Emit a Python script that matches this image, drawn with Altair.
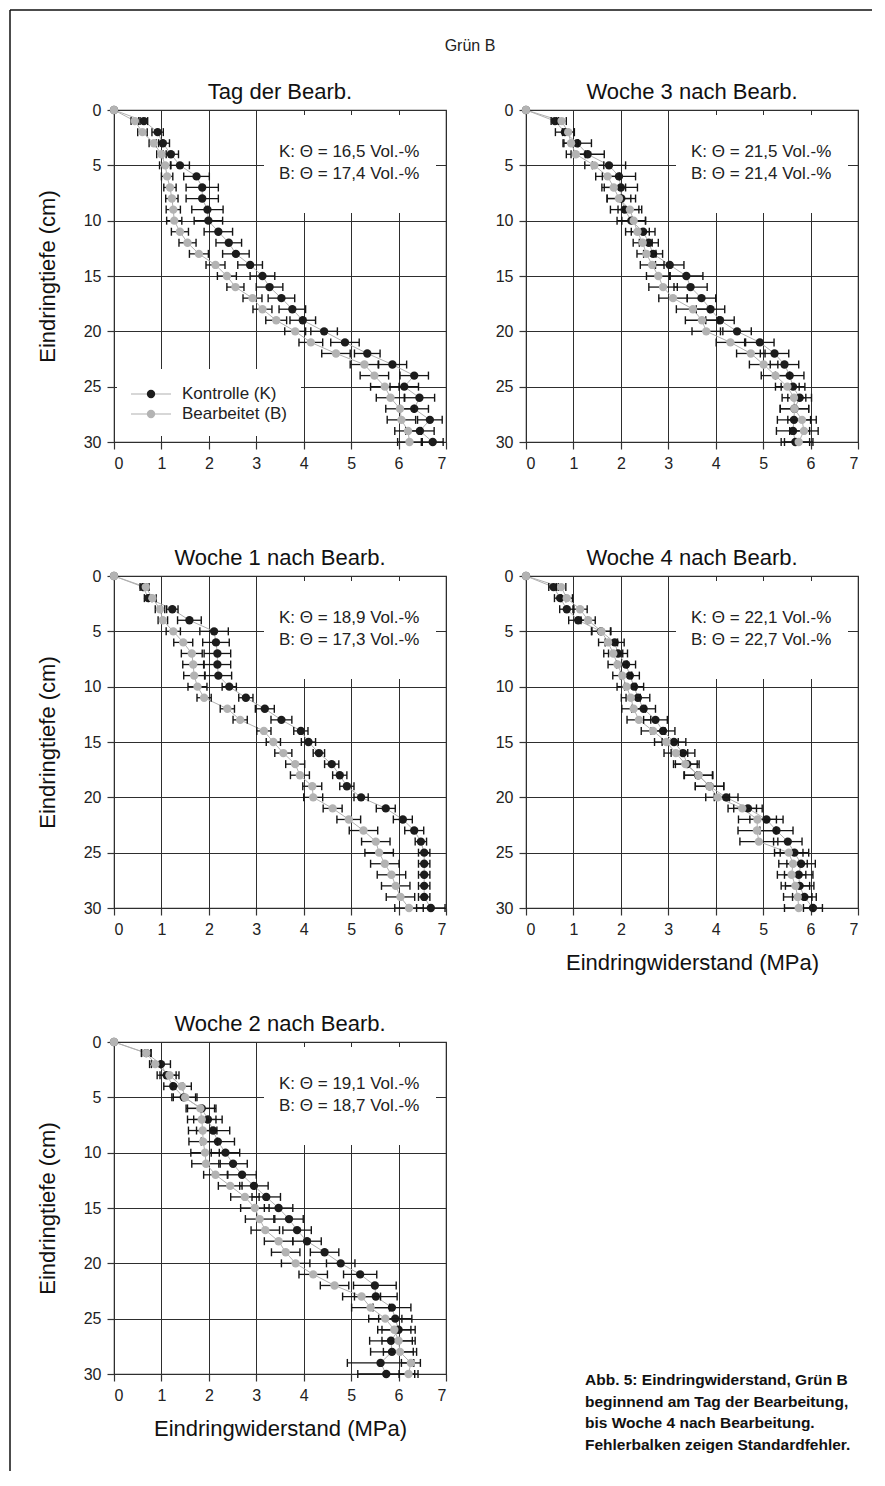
import altair as alt
import pandas as pd

FONT = "Liberation Sans"

depth = list(range(31))

# ---- Tag der Bearbeitung ----
k_t0 = [0, 0.63, 0.92, 1.03, 1.20, 1.39, 1.74, 1.86, 1.86, 1.97, 1.99, 2.20, 2.42, 2.57, 2.87, 3.13,
        3.28, 3.53, 3.76, 3.98, 4.43, 4.87, 5.34, 5.87, 6.33, 6.12, 6.44, 6.33, 6.66, 6.45, 6.72]
b_t0 = [0, 0.44, 0.60, 0.84, 1.00, 1.08, 1.12, 1.18, 1.22, 1.25, 1.27, 1.39, 1.55, 1.79, 2.14, 2.38,
        2.56, 2.92, 3.13, 3.42, 3.82, 4.15, 4.68, 5.28, 5.49, 5.71, 5.83, 6.03, 6.06, 6.20, 6.23]
sek_t0 = [0, 0.08, 0.12, 0.14, 0.16, 0.20, 0.27, 0.34, 0.34, 0.33, 0.30, 0.30, 0.27, 0.28, 0.26, 0.26,
          0.28, 0.28, 0.28, 0.27, 0.28, 0.30, 0.27, 0.30, 0.30, 0.30, 0.32, 0.30, 0.26, 0.30, 0.22]
seb_t0 = [0, 0.08, 0.10, 0.10, 0.10, 0.12, 0.12, 0.13, 0.13, 0.15, 0.16, 0.18, 0.18, 0.20, 0.20, 0.20,
          0.18, 0.20, 0.20, 0.22, 0.22, 0.25, 0.30, 0.30, 0.30, 0.30, 0.30, 0.30, 0.30, 0.28, 0.25]

# ---- Woche 1 ----
k_w1 = [0, 0.62, 0.72, 1.23, 1.59, 2.11, 2.15, 2.18, 2.18, 2.20, 2.43, 2.78, 3.18, 3.53, 3.94, 4.10,
        4.32, 4.59, 4.76, 4.91, 5.21, 5.73, 6.09, 6.33, 6.47, 6.54, 6.54, 6.54, 6.54, 6.54, 6.68]
b_w1 = [0, 0.67, 0.81, 0.97, 1.03, 1.25, 1.46, 1.64, 1.67, 1.69, 1.76, 1.90, 2.39, 2.66, 3.16, 3.36,
        3.57, 3.82, 3.92, 4.18, 4.20, 4.61, 4.95, 5.26, 5.52, 5.59, 5.71, 5.85, 5.94, 6.04, 6.22]
sek_w1 = [0, 0.07, 0.08, 0.12, 0.25, 0.30, 0.28, 0.28, 0.28, 0.28, 0.15, 0.15, 0.20, 0.22, 0.15, 0.15,
          0.12, 0.15, 0.15, 0.15, 0.15, 0.20, 0.20, 0.20, 0.12, 0.12, 0.12, 0.12, 0.12, 0.12, 0.30]
seb_w1 = [0, 0.07, 0.08, 0.10, 0.10, 0.15, 0.20, 0.22, 0.22, 0.22, 0.20, 0.15, 0.15, 0.15, 0.15, 0.15,
          0.18, 0.20, 0.20, 0.20, 0.20, 0.20, 0.25, 0.30, 0.30, 0.30, 0.30, 0.30, 0.30, 0.30, 0.30]

# ---- Woche 2 ----
k_w2 = [0, 0.68, 0.99, 1.11, 1.25, 1.47, 1.85, 1.98, 2.09, 2.19, 2.35, 2.51, 2.70, 2.95, 3.21, 3.47,
        3.69, 3.86, 4.07, 4.44, 4.78, 5.19, 5.50, 5.52, 5.86, 5.93, 6.00, 5.84, 5.86, 5.62, 5.74]
b_w2 = [0, 0.68, 0.87, 1.17, 1.43, 1.50, 1.82, 1.85, 1.87, 1.88, 1.92, 1.94, 2.14, 2.45, 2.76, 2.97,
        3.07, 3.19, 3.47, 3.62, 3.83, 4.20, 4.65, 5.22, 5.41, 5.72, 5.91, 6.00, 6.03, 6.26, 6.21]
sek_w2 = [0, 0.10, 0.20, 0.20, 0.20, 0.25, 0.30, 0.30, 0.35, 0.35, 0.30, 0.30, 0.30, 0.30, 0.30, 0.30,
          0.30, 0.30, 0.30, 0.30, 0.30, 0.35, 0.45, 0.45, 0.40, 0.35, 0.35, 0.45, 0.45, 0.70, 0.60]
seb_w2 = [0, 0.10, 0.12, 0.20, 0.20, 0.25, 0.30, 0.30, 0.30, 0.30, 0.30, 0.30, 0.25, 0.25, 0.30, 0.30,
          0.30, 0.30, 0.30, 0.30, 0.30, 0.30, 0.30, 0.40, 0.40, 0.35, 0.35, 0.35, 0.35, 0.20, 0.20]

# ---- Woche 3 ----
k_w3 = [0, 0.61, 0.82, 1.08, 1.30, 1.75, 1.96, 2.00, 2.01, 2.08, 2.22, 2.47, 2.59, 2.68, 3.03, 3.38,
        3.47, 3.70, 3.89, 4.09, 4.45, 4.93, 5.24, 5.45, 5.56, 5.63, 5.77, 5.66, 5.65, 5.63, 5.68]
b_w3 = [0, 0.75, 0.89, 0.95, 1.05, 1.44, 1.72, 1.85, 1.96, 2.19, 2.27, 2.35, 2.46, 2.54, 2.66, 2.79,
        2.89, 3.10, 3.52, 3.71, 3.80, 4.31, 4.74, 5.01, 5.26, 5.51, 5.65, 5.66, 5.82, 5.86, 5.75]
sek_w3 = [0, 0.08, 0.20, 0.30, 0.35, 0.35, 0.35, 0.35, 0.30, 0.30, 0.30, 0.25, 0.20, 0.20, 0.30, 0.35,
          0.35, 0.30, 0.30, 0.30, 0.30, 0.30, 0.30, 0.30, 0.30, 0.25, 0.25, 0.30, 0.35, 0.35, 0.30]
seb_w3 = [0, 0.10, 0.12, 0.15, 0.20, 0.20, 0.25, 0.25, 0.25, 0.25, 0.25, 0.25, 0.20, 0.20, 0.25, 0.25,
          0.30, 0.30, 0.35, 0.35, 0.30, 0.30, 0.30, 0.30, 0.30, 0.25, 0.25, 0.30, 0.30, 0.30, 0.30]

# ---- Woche 4 ----
k_w4 = [0, 0.58, 0.72, 0.86, 1.10, 1.58, 1.87, 1.94, 2.11, 2.19, 2.28, 2.36, 2.48, 2.73, 2.89, 3.12,
        3.31, 3.40, 3.63, 3.87, 4.22, 4.68, 5.07, 5.28, 5.52, 5.66, 5.80, 5.75, 5.77, 5.87, 6.05]
b_w4 = [0, 0.74, 0.86, 1.14, 1.31, 1.59, 1.73, 1.84, 1.93, 2.03, 2.12, 2.21, 2.27, 2.38, 2.68, 2.96,
        3.16, 3.36, 3.64, 3.87, 4.04, 4.56, 4.88, 4.87, 4.91, 5.54, 5.63, 5.60, 5.68, 5.73, 5.75]
sek_w4 = [0, 0.10, 0.12, 0.15, 0.20, 0.20, 0.20, 0.20, 0.20, 0.20, 0.20, 0.25, 0.25, 0.25, 0.25, 0.25,
          0.25, 0.25, 0.30, 0.30, 0.25, 0.30, 0.35, 0.35, 0.30, 0.30, 0.30, 0.30, 0.30, 0.25, 0.20]
seb_w4 = [0, 0.10, 0.12, 0.15, 0.15, 0.20, 0.20, 0.20, 0.20, 0.20, 0.20, 0.20, 0.25, 0.25, 0.25, 0.25,
          0.25, 0.25, 0.30, 0.30, 0.25, 0.30, 0.40, 0.40, 0.40, 0.30, 0.30, 0.30, 0.30, 0.30, 0.30]

x_ticks = [0, 1, 2, 3, 4, 5, 6, 7]
y_ticks = [0, 5, 10, 15, 20, 25, 30]
series_names = ["Kontrolle (K)", "Bearbeitet (B)"]
x_title = "Eindringwiderstand (MPa)"
y_title = "Eindringtiefe (cm)"
fig_title = "Grün B"
caption_lines = ["Abb. 5: Eindringwiderstand, Grün B",
                 "beginnend am Tag der Bearbeitung,",
                 "bis Woche 4 nach Bearbeitung.",
                 "Fehlerbalken zeigen Standardfehler."]

BLACK = "#1c1c1c"
GRAY = "#b3b3b3"
LINE = "#b0b0b0"
ERR = "#151515"
W = 332
H = 332
PT = 70

one = pd.DataFrame({"a": [0]})


def panel(title, k, b, sek, seb, theta_k, theta_b, show_y, show_x, legend=False):
    rows = []
    for s, vals, se in (("K", k, sek), ("B", b, seb)):
        for d, v, e in zip(depth, vals, se):
            rows.append({"depth": d, "value": v, "lo": v - e, "hi": v + e, "se": e, "series": s})
    df = pd.DataFrame(rows)

    xs = alt.Scale(domain=[0, 7], nice=False, zero=False)
    ys = alt.Scale(domain=[0, 30], reverse=True, nice=False, zero=False)
    xax = alt.Axis(values=x_ticks, titleY=54, titleBaseline="middle")
    yax = alt.Axis(values=y_ticks, titleX=-67, titleY=H / 2, titleAngle=270,
                   titleBaseline="middle", titleAlign="center")
    xt = x_title if show_x else None
    yt = y_title if show_y else None

    def X(f):
        return alt.X(f + ":Q", scale=xs, axis=xax, title=xt)

    def Y(f):
        return alt.Y(f + ":Q", scale=ys, axis=yax, title=yt)

    base = alt.Chart(df)
    layers = []
    # white box behind the moisture annotation
    layers.append(alt.Chart(one).mark_rect(color="white").encode(
        x=alt.value(150), x2=alt.value(322), y=alt.value(5), y2=alt.value(103)))
    if legend:
        layers.append(alt.Chart(one).mark_rect(color="white").encode(
            x=alt.value(3), x2=alt.value(187), y=alt.value(259), y2=alt.value(326)))

    layers.append(base.mark_line(color=LINE, strokeWidth=1).encode(
        x=X("value"), y=Y("depth"), detail="series:N", order="depth:Q"))

    for s, col in (("K", BLACK), ("B", GRAY)):
        sub = base.transform_filter(alt.datum.series == s)
        err = sub.transform_filter("datum.se > 0")
        layers.append(err.mark_rule(color=ERR, strokeWidth=1.3).encode(
            x=X("lo"), x2="hi:Q", y=Y("depth")))
        layers.append(err.mark_tick(orient="vertical", size=8, thickness=1.4, color=ERR, opacity=1).encode(
            x=X("lo"), y=Y("depth")))
        layers.append(err.mark_tick(orient="vertical", size=8, thickness=1.4, color=ERR, opacity=1).encode(
            x=X("hi"), y=Y("depth")))
        layers.append(sub.mark_circle(size=PT, color=col, opacity=1).encode(
            x=X("value"), y=Y("depth")))

    layers.append(alt.Chart(one).mark_text(
        text=["K: \u0398 = " + theta_k + " Vol.-%", "B: \u0398 = " + theta_b + " Vol.-%"],
        align="left", baseline="top", fontSize=17, font=FONT, color="#222", lineHeight=21.5
    ).encode(x=alt.value(165), y=alt.value(34)))

    if legend:
        for i, (name, col) in enumerate(zip(series_names, (BLACK, GRAY))):
            yy = 284 + 20 * i
            layers.append(alt.Chart(one).mark_rule(color=LINE, strokeWidth=1.2).encode(
                x=alt.value(17), x2=alt.value(57), y=alt.value(yy)))
            layers.append(alt.Chart(one).mark_circle(size=PT, color=col, opacity=1).encode(
                x=alt.value(37), y=alt.value(yy)))
            layers.append(alt.Chart(one).mark_text(
                text=name, align="left", baseline="middle", fontSize=17, font=FONT, color="#222"
            ).encode(x=alt.value(68), y=alt.value(yy)))

    return alt.layer(*layers).properties(
        width=W, height=H,
        title=alt.TitleParams(title, fontSize=22, font=FONT, fontWeight="normal", color="#111",
                              anchor="middle", offset=-2),
        view=alt.ViewBackground(stroke="#333", strokeWidth=1.2),
    )


p1 = panel("Tag der Bearb.", k_t0, b_t0, sek_t0, seb_t0, "16,5", "17,4", True, False, legend=True)
p2 = panel("Woche 3 nach Bearb.", k_w3, b_w3, sek_w3, seb_w3, "21,5", "21,4", False, False)
p3 = panel("Woche 1 nach Bearb.", k_w1, b_w1, sek_w1, seb_w1, "18,9", "17,3", True, False)
p4 = panel("Woche 4 nach Bearb.", k_w4, b_w4, sek_w4, seb_w4, "22,1", "22,7", False, True)
p5 = panel("Woche 2 nach Bearb.", k_w2, b_w2, sek_w2, seb_w2, "19,1", "18,7", True, True)

# caption cell (bottom right); also carries the figure title and the page frame
cap_layers = [
    alt.Chart(one).mark_text(
        text=caption_lines, align="left", baseline="top", fontSize=15.5, font=FONT,
        fontWeight="bold", color="#111", lineHeight=21.7
    ).encode(x=alt.value(59), y=alt.value(331)),
    alt.Chart(one).mark_text(
        text=fig_title, align="center", baseline="middle", fontSize=16, font=FONT, color="#222"
    ).encode(x=alt.value(-56), y=alt.value(-996)),
    alt.Chart(one).mark_rule(color="#111", strokeWidth=1.5).encode(
        x=alt.value(-516), x2=alt.value(346), y=alt.value(-1032)),
    alt.Chart(one).mark_rule(color="#111", strokeWidth=1.5).encode(
        x=alt.value(-516), y=alt.value(-1032), y2=alt.value(429)),
]
cap = alt.layer(*cap_layers).properties(
    width=W, height=H, view=alt.ViewBackground(stroke="transparent"))

chart = alt.concat(p1, p2, p3, p4, p5, cap, columns=2, bounds="flush",
                   spacing={"row": 134, "column": 80}).properties(
    padding={"left": 0, "top": 0, "right": 0, "bottom": 0}
).configure_axis(
    labelFont=FONT, labelFontSize=16, labelColor="#222", labelPadding=6,
    titleFont=FONT, titleFontSize=22, titleFontWeight="normal", titleColor="#111",
    gridColor="#2e2e2e", gridWidth=1, gridOpacity=1,
    tickColor="#333", tickSize=7, tickWidth=1.2, domain=False,
).configure_view(stroke="#333", strokeWidth=1.2)

chart.save("out.html", embed_options={"renderer": "svg", "actions": False})
